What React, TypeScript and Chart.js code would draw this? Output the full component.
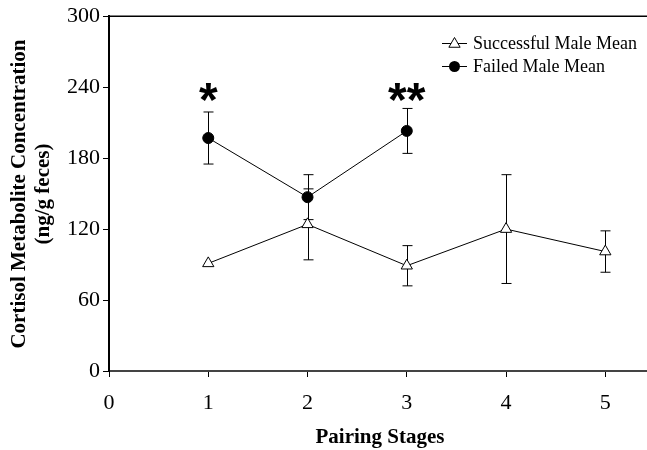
import { useEffect, useRef } from 'react';
import { Chart, registerables } from 'chart.js';

Chart.register(...registerables);

// Pairing stages (x) and mean cortisol metabolite concentrations (ng/g feces)
const stages = [1, 2, 3, 4, 5];
const successfulMean = [91, 124, 89, 120, 101];
const successfulErr = [0, 30, 17, 46, 17.5];

const failedStages = [1, 2, 3];
const failedMean = [197, 147, 203];
const failedErr = [22, 19, 19];

const xTicks = [0, 1, 2, 3, 4, 5];
const yTicks = [0, 60, 120, 180, 240, 300];

// Significance markers
const starStages = [1, 3];
const starTexts = ['*', '**'];
const starLevel = 239;

const seriesNames = ['Successful Male Mean', 'Failed Male Mean'];
const yTitleLines = ['Cortisol Metabolite Concentration', '(ng/g feces)'];
const xTitle = 'Pairing Stages';

const SERIF = "'Liberation Serif', 'Times New Roman', serif";
const SANS = "'Liberation Sans', Arial, sans-serif";

function trianglePath(ctx: CanvasRenderingContext2D, x: number, y: number, r: number) {
  ctx.beginPath();
  ctx.moveTo(x, y - r);
  ctx.lineTo(x + 0.866 * r, y + 0.5 * r);
  ctx.lineTo(x - 0.866 * r, y + 0.5 * r);
  ctx.closePath();
}

const decorations = {
  id: 'decorations',
  beforeDatasetsDraw(chart: any) {
    const { ctx, scales, chartArea } = chart;
    const x = scales.x;
    const y = scales.y;
    ctx.save();
    // top frame line
    ctx.strokeStyle = '#000';
    ctx.lineWidth = 1.5;
    const top = y.getPixelForValue(300);
    ctx.beginPath();
    ctx.moveTo(chartArea.left, top);
    ctx.lineTo(chartArea.right, top);
    ctx.stroke();

    // error bars
    ctx.lineWidth = 1;
    const drawErr = (xs: number[], means: number[], errs: number[]) => {
      xs.forEach((sx, i) => {
        const e = errs[i];
        if (!e) return;
        const px = Math.round(x.getPixelForValue(sx)) + 0.5;
        const hi = y.getPixelForValue(means[i] + e);
        const lo = y.getPixelForValue(means[i] - e);
        ctx.beginPath();
        ctx.moveTo(px, hi);
        ctx.lineTo(px, lo);
        ctx.moveTo(px - 5, hi);
        ctx.lineTo(px + 5, hi);
        ctx.moveTo(px - 5, lo);
        ctx.lineTo(px + 5, lo);
        ctx.stroke();
      });
    };
    drawErr(stages, successfulMean, successfulErr);
    drawErr(failedStages, failedMean, failedErr);
    ctx.restore();
  },
  afterDraw(chart: any) {
    const { ctx, scales } = chart;
    const x = scales.x;
    const y = scales.y;
    ctx.save();

    // significance stars
    const starSize = 48;
    ctx.font = `bold ${starSize}px ${SANS}`;
    ctx.fillStyle = '#000';
    ctx.textAlign = 'center';
    ctx.textBaseline = 'alphabetic';
    starStages.forEach((s, i) => {
      const px = x.getPixelForValue(s);
      const py = y.getPixelForValue(starLevel) + 0.57 * starSize;
      ctx.fillText(starTexts[i], px, py);
    });

    // legend
    const lx0 = 442;
    const lx1 = 467;
    const rows = [43, 66];
    ctx.strokeStyle = '#000';
    ctx.lineWidth = 1;
    ctx.font = `18px ${SERIF}`;
    ctx.textAlign = 'left';
    ctx.textBaseline = 'middle';
    rows.forEach((ry, i) => {
      ctx.beginPath();
      ctx.moveTo(lx0, ry + 0.5);
      ctx.lineTo(lx1, ry + 0.5);
      ctx.stroke();
      const mx = (lx0 + lx1) / 2;
      if (i === 0) {
        trianglePath(ctx, mx, ry + 1, 6.5);
        ctx.fillStyle = '#fff';
        ctx.fill();
        ctx.stroke();
      } else {
        ctx.beginPath();
        ctx.arc(mx, ry + 0.5, 5.5, 0, Math.PI * 2);
        ctx.fillStyle = '#000';
        ctx.fill();
      }
      ctx.fillStyle = '#000';
      ctx.fillText(seriesNames[i], 473, ry + 1);
    });

    // axis titles
    ctx.font = `bold 21px ${SERIF}`;
    ctx.textAlign = 'center';
    ctx.textBaseline = 'middle';
    ctx.fillText(xTitle, 380, 438);
    const yCenters = [20, 44];
    yTitleLines.forEach((line, i) => {
      ctx.save();
      ctx.translate(yCenters[i], 194);
      ctx.rotate(-Math.PI / 2);
      ctx.fillText(line, 0, 0);
      ctx.restore();
    });

    ctx.restore();
  },
};

export default function App() {
  const canvasRef = useRef<HTMLCanvasElement | null>(null);

  useEffect(() => {
    const canvas = canvasRef.current;
    if (!canvas) return;

    const chart = new Chart(canvas, {
      type: 'scatter',
      data: {
        datasets: [
          {
            label: seriesNames[0],
            data: stages.map((s, i) => ({ x: s, y: successfulMean[i] })),
            showLine: true,
            borderColor: '#000',
            borderWidth: 1,
            pointStyle: 'triangle',
            pointRadius: 6.5,
            pointBackgroundColor: '#fff',
            pointBorderColor: '#000',
            pointBorderWidth: 1,
          },
          {
            label: seriesNames[1],
            data: failedStages.map((s, i) => ({ x: s, y: failedMean[i] })),
            showLine: true,
            borderColor: '#000',
            borderWidth: 1,
            pointStyle: 'circle',
            pointRadius: 5.5,
            pointBackgroundColor: '#000',
            pointBorderColor: '#000',
            pointBorderWidth: 1,
          },
        ],
      },
      options: {
        animation: false,
        responsive: false,
        layout: { autoPadding: false, padding: { top: 16, right: 0, left: 0, bottom: 0 } },
        plugins: {
          legend: { display: false },
          tooltip: { enabled: false },
        },
        scales: {
          x: {
            type: 'linear',
            min: 0,
            max: 5.42,
            afterBuildTicks: (scale: any) => {
              scale.ticks = xTicks.map((v) => ({ value: v }));
            },
            afterFit: (scale: any) => {
              scale.height = 79;
              scale.paddingRight = 0;
              scale.paddingLeft = 0;
            },
            grid: {
              drawOnChartArea: false,
              drawTicks: true,
              tickLength: 6,
              color: '#000',
              lineWidth: 1,
            },
            border: { color: '#444', width: 2 },
            ticks: {
              color: '#000',
              padding: 13,
              font: { family: SERIF, size: 22 },
              callback: (v: any) => String(v),
            },
          },
          y: {
            type: 'linear',
            min: 0,
            max: 300,
            afterBuildTicks: (scale: any) => {
              scale.ticks = yTicks.map((v) => ({ value: v }));
            },
            afterFit: (scale: any) => {
              scale.width = 109;
            },
            grid: {
              drawOnChartArea: false,
              drawTicks: true,
              tickLength: 6,
              color: '#000',
              lineWidth: 1,
            },
            border: { color: '#000', width: 2 },
            ticks: {
              color: '#000',
              padding: 3,
              font: { family: SERIF, size: 22 },
              callback: (v: any) => String(v),
            },
          },
        },
      },
      plugins: [decorations],
    });

    return () => chart.destroy();
  }, []);

  return (
    <div style={{ position: 'absolute', left: 0, top: 0, width: 647, height: 450, background: '#fff' }}>
      <canvas ref={canvasRef} width={647} height={450} />
    </div>
  );
}
